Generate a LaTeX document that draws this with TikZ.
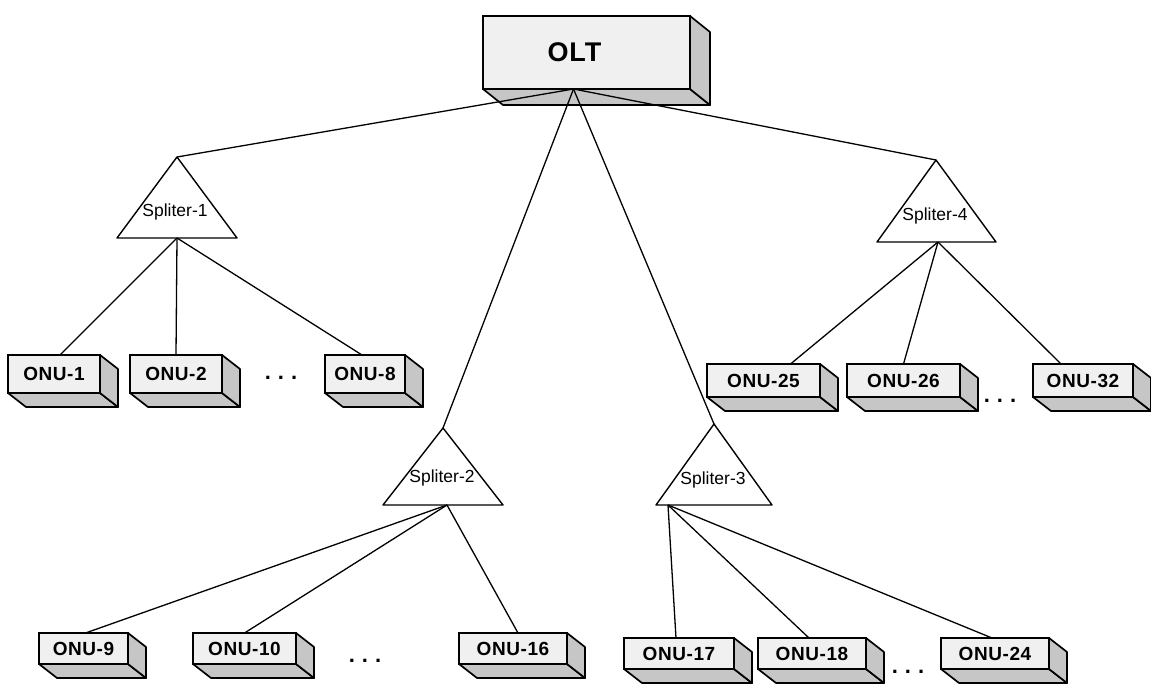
\documentclass[tikz,border=0pt]{standalone}
\usepackage{fontspec}
\setmainfont{Liberation Sans}
\newfontfamily\lblfont[LetterSpace=3]{Liberation Sans}
\usetikzlibrary{calc}

% depth of the 3-D boxes (right, down)
\def\bdx{18}
\def\bdy{14}

\tikzset{
  x=1pt, y=-1pt,
  boxface/.style={draw=black, line width=1.7pt, fill=gray!12, inner sep=0pt, outer sep=0pt,
    font=\lblfont\bfseries\fontsize{19}{19}\selectfont},
  depthface/.style={draw=black, line width=1.7pt, fill=gray!45, line join=round},
  link/.style={draw=black, line width=1.3pt},
  splitbox/.style={draw=black, line width=1.4pt, fill=white, line join=round},
  splabel/.style={font=\fontsize{17.5}{17.5}\selectfont, inner sep=0pt},
  dotsty/.style={font=\fontsize{22}{22}\selectfont\bfseries, inner sep=0pt},
}

% \onubox{name}{x left}{x right}{y top}{y bottom}{label}
\newcommand{\onubox}[6]{%
  \node[boxface, minimum width={#3-#2}, minimum height={#5-#4}] (#1) at ({(#2+#3)/2},{(#4+#5)/2}) {#6};
  \path[depthface] (#1.south west) -- (#1.south east) -- ($(#1.south east)+(\bdx,\bdy)$)
    -- ($(#1.south west)+(\bdx,\bdy)$) -- cycle;
  \path[depthface] (#1.north east) -- ($(#1.north east)+(\bdx,\bdy)$)
    -- ($(#1.south east)+(\bdx,\bdy)$) -- (#1.south east) -- cycle;
}

\begin{document}
\begin{tikzpicture}
\useasboundingbox (0,0) rectangle (1151,685);

% OLT
\node[boxface, font=\lblfont\bfseries\fontsize{27}{27}\selectfont, minimum width=207, minimum height=73]
  (olt) at (586.5,52.5) {OLT\hspace*{24pt}};
\path[depthface] (olt.south west) -- (olt.south east) -- ($(olt.south east)+(20,16)$)
  -- ($(olt.south west)+(20,16)$) -- cycle;
\path[depthface] (olt.north east) -- ($(olt.north east)+(20,16)$)
  -- ($(olt.south east)+(20,16)$) -- (olt.south east) -- cycle;
\coordinate (oltout) at ([xshift=-13]olt.south);

% splitters: apex, output point, triangle, label
\coordinate (sp1top) at (177,157);
\coordinate (sp1out) at (177,238);
\draw[splitbox] (sp1top) -- (237,238) -- (117,238) -- cycle;
\node[splabel] (sp1) at (175,212) {Spliter-1};

\coordinate (sp2top) at (443,428);
\coordinate (sp2out) at (447,505);
\draw[splitbox] (sp2top) -- (503,505) -- (383,505) -- cycle;
\node[splabel] (sp2) at (442,478) {Spliter-2};

\coordinate (sp3top) at (714,424);
\coordinate (sp3out) at (668,505);
\draw[splitbox] (sp3top) -- (772,505) -- (656,505) -- cycle;
\node[splabel] (sp3) at (713,480) {Spliter-3};

\coordinate (sp4top) at (936,160);
\coordinate (sp4out) at (938,242);
\draw[splitbox] (sp4top) -- (996,242) -- (877,242) -- cycle;
\node[splabel] (sp4) at (935,216) {Spliter-4};

% feeder fibres
\foreach \s in {sp1top,sp2top,sp3top,sp4top}
  \draw[link] (oltout) -- (\s);

% ONUs
\onubox{onu1}{8}{100}{355}{393}{ONU-1}
\onubox{onu2}{130}{222}{355}{393}{ONU-2}
\onubox{onu8}{325}{405}{355}{393}{ONU-8}
\node[dotsty] (dots1) at (281,378) {.\hspace{7pt}.\hspace{7pt}.};

\onubox{onu25}{707}{820}{364}{397}{ONU-25}
\onubox{onu26}{847}{960}{364}{397}{ONU-26}
\onubox{onu32}{1033}{1133}{364}{397}{ONU-32}
\node[dotsty] (dots4) at (1000,401) {.\hspace{7pt}.\hspace{7pt}.};

\onubox{onu9}{39}{128}{633}{664}{ONU-9}
\onubox{onu10}{193}{296}{633}{664}{ONU-10}
\onubox{onu16}{459}{567}{633}{664}{ONU-16}
\node[dotsty] (dots2) at (365,661) {.\hspace{7pt}.\hspace{7pt}.};

\onubox{onu17}{624}{734}{638}{669}{ONU-17}
\onubox{onu18}{758}{866}{638}{669}{ONU-18}
\onubox{onu24}{941}{1049}{638}{669}{ONU-24}
\node[dotsty] (dots3) at (908,672) {.\hspace{7pt}.\hspace{7pt}.};

% drop fibres
\draw[link] (sp1out) -- ([xshift=6]onu1.north);
\draw[link] (sp1out) -- (onu2.north);
\draw[link] (sp1out) -- ([xshift=-3]onu8.north);

\draw[link] (sp4out) -- ([xshift=27]onu25.north);
\draw[link] (sp4out) -- (onu26.north);
\draw[link] (sp4out) -- ([xshift=-22]onu32.north);

\draw[link] (sp2out) -- ([xshift=2]onu9.north);
\draw[link] (sp2out) -- (onu10.north);
\draw[link] (sp2out) -- ([xshift=5]onu16.north);

\draw[link] (sp3out) -- ([xshift=-3]onu17.north);
\draw[link] (sp3out) -- ([xshift=-3]onu18.north);
\draw[link] (sp3out) -- ([xshift=-3]onu24.north);
\end{tikzpicture}
\end{document}
